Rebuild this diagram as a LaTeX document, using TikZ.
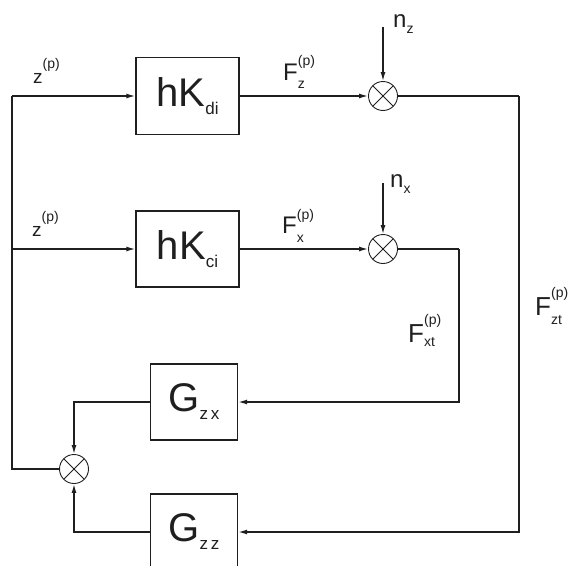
\documentclass[tikz,border=0pt]{standalone}
\usepackage{fontspec}
\setmainfont{Liberation Sans}
\usetikzlibrary{arrows.meta}
\newcommand{\fs}[2]{{\fontsize{#1}{#1}\selectfont #2}}
\newcommand{\boxlab}[4]{\fs{#3}{#1}\raisebox{-8pt}{\fs{#4}{#2}}}
\newcommand{\sig}[7]{\fs{#2}{#1}\rlap{\raisebox{-#6}{\fs{#5}{#3}}}\raisebox{#7}{\fs{#5}{#4}}}
\definecolor{ink}{gray}{0.12}
\tikzset{
  blk/.style={draw=ink, line width=1.4pt, inner sep=0pt, text=ink},
  mult/.style={circle, draw=ink, line width=0.9pt, minimum size=29pt, inner sep=0pt,
    path picture={
      \draw[ink, line width=0.9pt] (path picture bounding box.north west) -- (path picture bounding box.south east);
      \draw[ink, line width=0.9pt] (path picture bounding box.north east) -- (path picture bounding box.south west);}},
  wire/.style={draw=ink, line width=1.4pt},
  arr/.style={wire, -{Latex[length=9pt,width=5pt]}},
  lab/.style={anchor=base west, inner sep=0pt, text=ink}
}
\begin{document}
\begin{tikzpicture}[x=1pt, y=-1pt]
\useasboundingbox (0,0) rectangle (569,565);
% blocks
\node[blk, minimum width=103pt, minimum height=77pt] (hkd) at (187.5,96) {\boxlab{hK}{di}{40}{17}};
\node[blk, minimum width=103pt, minimum height=76pt] (hkc) at (187.5,249) {\boxlab{hK}{ci}{40}{17}};
\node[blk, minimum width=87pt, minimum height=76pt] (gzx) at (194,402) {\boxlab{G}{z\,x}{40}{17}};
\node[blk, minimum width=87pt, minimum height=76pt] (gzz) at (194,532) {\boxlab{G}{z\,z}{40}{17}};
% multipliers
\node[mult] (m1) at (383,96) {};
\node[mult] (m2) at (383,249) {};
\node[mult] (m3) at (74,469) {};
% helper coordinates
\coordinate (tl) at (12,96);
\coordinate (ml) at (12,249);
\coordinate (nz) at (383,27);
\coordinate (nx) at (383,183);
\coordinate (rz) at (519,96);
\coordinate (rx) at (459,249);
% connectors
\draw[arr] (tl) -- (hkd.west);
\draw[arr] (ml) -- (hkc.west);
\draw[wire] (m3.west) -| (tl);
\draw[arr] (hkd.east) -- (m1.west);
\draw[arr] (hkc.east) -- (m2.west);
\draw[arr] (nz) -- (m1.north);
\draw[arr] (nx) -- (m2.north);
\draw[wire] (m1.east) -- (rz);
\draw[arr] (rz) |- (gzz.east);
\draw[wire] (m2.east) -- (rx);
\draw[arr] (rx) |- (gzx.east);
\draw[arr] (gzx.west) -| (m3.north);
\draw[arr] (gzz.west) -| (m3.south);
% labels
\node[lab] (lz1) at (33,83) {\sig{z}{19}{}{(p)}{14}{0pt}{15pt}};
\node[lab] (lz2) at (32,236) {\sig{z}{19}{}{(p)}{14}{0pt}{15pt}};
\node[lab] (lfz) at (283,80) {\sig{F}{24}{z}{(p)}{14}{8pt}{15pt}};
\node[lab] (lfx) at (282,233) {\sig{F}{24}{x}{(p)}{14}{9pt}{14pt}};
\node[lab] (lnz) at (393,27) {\sig{n}{24}{z}{}{14}{6pt}{0pt}};
\node[lab] (lnx) at (390,187) {\sig{n}{24}{x}{}{14}{6pt}{0pt}};
\node[lab] (lfxt) at (408,342) {\sig{F}{26}{xt}{(p)}{14}{4pt}{18pt}};
\node[lab] (lfzt) at (535,315) {\sig{F}{26}{zt}{(p)}{14}{9pt}{18pt}};
\end{tikzpicture}
\end{document}
